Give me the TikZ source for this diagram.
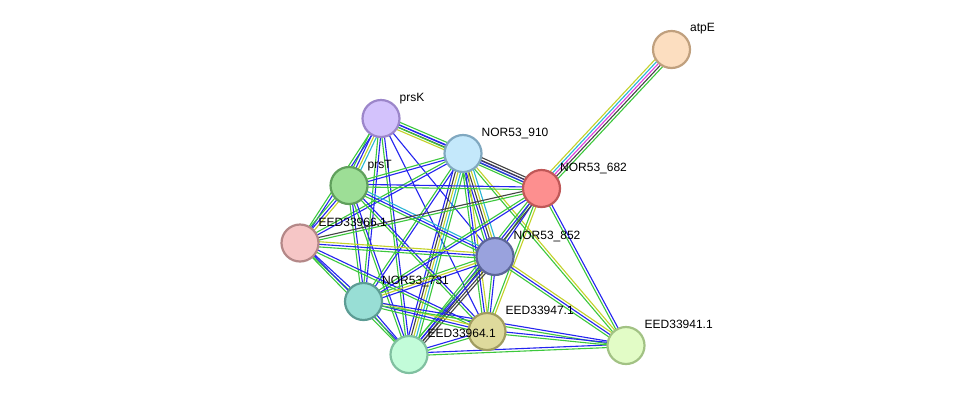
\documentclass[tikz,border=0pt]{standalone}
\usepackage{fontspec}
\setmainfont{Liberation Sans}
\usetikzlibrary{calc}
\pgfdeclarelayer{bg}
\pgfsetlayers{bg,main}
\definecolor{cG}{HTML}{3CC83C}
\definecolor{cB}{HTML}{2424F0}
\definecolor{cY}{HTML}{C4D22A}
\definecolor{cC}{HTML}{2AB6D6}
\definecolor{cK}{HTML}{444444}
\definecolor{cM}{HTML}{E040E0}
\tikzset{
  prot/.style={circle,minimum size=37pt,inner sep=0pt,line width=2.2pt},
  lbl/.style={anchor=base west,font=\fontsize{12}{14}\selectfont,inner sep=0pt,text=black},
  ln/.style={line width=1.1pt}
}
\newcommand\sedge[4]{%
  \foreach \cc [count=\i] in {#4}{%
    \pgfmathsetmacro\off{(\i-(#3+1)/2)*2.6}%
    \draw[ln,draw=\cc] ($(#1.center)!\off pt!90:(#2.center)$) -- ($(#2.center)!\off pt!-90:(#1.center)$);
  }%
}
\begin{document}
\begin{tikzpicture}[x=1pt,y=-1pt]
\useasboundingbox (0,0) rectangle (976,400);
% nodes
\node[prot,fill={rgb,255:red,252;green,222;blue,192},draw={rgb,255:red,192;green,160;blue,126}] (atpE) at (671.5,49.5) {};
\node[prot,fill={rgb,255:red,253;green,143;blue,143},draw={rgb,255:red,192;green,88;blue,88}] (n682) at (541.5,188.5) {};
\node[prot,fill={rgb,255:red,211;green,194;blue,252},draw={rgb,255:red,156;green,134;blue,202}] (prsK) at (381,118.5) {};
\node[prot,fill={rgb,255:red,196;green,232;blue,251},draw={rgb,255:red,128;green,168;blue,192}] (n910) at (463,153.5) {};
\node[prot,fill={rgb,255:red,157;green,222;blue,150},draw={rgb,255:red,96;green,160;blue,92}] (prsT) at (349,185.5) {};
\node[prot,fill={rgb,255:red,246;green,198;blue,198},draw={rgb,255:red,180;green,136;blue,136}] (e66) at (300,243) {};
\node[prot,fill={rgb,255:red,153;green,162;blue,221},draw={rgb,255:red,92;green,102;blue,152}] (n852) at (495,256.5) {};
\node[prot,fill={rgb,255:red,152;green,222;blue,213},draw={rgb,255:red,92;green,156;blue,148}] (n731) at (363.5,301.5) {};
\node[prot,fill={rgb,255:red,222;green,218;blue,156},draw={rgb,255:red,160;green,156;blue,96}] (e47) at (487,331.5) {};
\node[prot,fill={rgb,255:red,194;green,252;blue,217},draw={rgb,255:red,128;green,192;blue,160}] (e64) at (409,354.5) {};
\node[prot,fill={rgb,255:red,226;green,252;blue,198},draw={rgb,255:red,162;green,194;blue,132}] (e41) at (626,345.5) {};
% labels
\node[lbl] (l-atpE) at (690,31.5) {atpE};
\node[lbl] (l-682) at (560,171) {NOR53\_682};
\node[lbl] (l-prsK) at (399.5,101.5) {prsK};
\node[lbl] (l-910) at (481.5,136.5) {NOR53\_910};
\node[lbl] (l-prsT) at (367.5,168) {prsT};
\node[lbl] (l-e66) at (318.5,226) {EED33966.1};
\node[lbl] (l-852) at (513.5,239.5) {NOR53\_852};
\node[lbl] (l-731) at (382,284.5) {NOR53\_731};
\node[lbl] (l-e47) at (505.5,314.5) {EED33947.1};
\node[lbl] (l-e64) at (427.5,337.5) {EED33964.1};
\node[lbl] (l-e41) at (644.5,328.5) {EED33941.1};
% edges
\begin{pgfonlayer}{bg}
\fill[white] (0,0) rectangle (976,400);
\sedge{atpE}{n682}{5}{cY,cC,cM,cK,cG}
\sedge{prsK}{n910}{4}{cY,cK,cB,cG}
\sedge{prsK}{prsT}{4}{cG,cB,cY,cC}
\sedge{prsK}{e66}{2}{cG,cB}
\sedge{prsK}{n852}{1}{cB}
\sedge{prsK}{n731}{2}{cG,cB}
\sedge{prsK}{e64}{2}{cG,cB}
\sedge{prsK}{e47}{1}{cB}
\sedge{prsK}{n682}{2}{cG,cB}
\sedge{n910}{n682}{4}{cG,cB,cK,cK}
\sedge{n910}{prsT}{2}{cG,cB}
\sedge{n910}{e66}{2}{cG,cB}
\sedge{n910}{n852}{5}{cG,cB,cK,cY,cC}
\sedge{n910}{n731}{2}{cG,cB}
\sedge{n910}{e64}{5}{cB,cK,cY,cC,cG}
\sedge{n910}{e47}{3}{cG,cB,cY}
\sedge{n910}{e41}{2}{cG,cY}
\sedge{prsT}{n682}{2}{cG,cB}
\sedge{prsT}{e66}{3}{cG,cB,cY}
\sedge{prsT}{n852}{3}{cG,cB,cC}
\sedge{prsT}{n731}{2}{cG,cB}
\sedge{prsT}{e64}{2}{cG,cB}
\sedge{prsT}{e47}{2}{cG,cB}
\sedge{n682}{e66}{2}{cK,cG}
\sedge{n682}{n852}{2}{cG,cB}
\sedge{n682}{n731}{2}{cG,cB}
\sedge{n682}{e64}{3}{cG,cB,cK}
\sedge{n682}{e47}{2}{cG,cY}
\sedge{n682}{e41}{2}{cG,cB}
\sedge{e66}{n852}{3}{cG,cB,cY}
\sedge{e66}{n731}{2}{cG,cB}
\sedge{e66}{e64}{2}{cG,cB}
\sedge{e66}{e47}{2}{cG,cB}
\sedge{n852}{n731}{3}{cG,cY,cB}
\sedge{n852}{e64}{4}{cG,cB,cK,cK}
\sedge{n852}{e47}{2}{cG,cB}
\sedge{n852}{e41}{3}{cG,cB,cY}
\sedge{n731}{e64}{2}{cG,cB}
\sedge{n731}{e47}{3}{cG,cB,cY}
\sedge{n731}{e41}{2}{cG,cB}
\sedge{e64}{e47}{2}{cG,cB}
\sedge{e64}{e41}{2}{cG,cB}
\sedge{e47}{e41}{2}{cG,cB}
\end{pgfonlayer}
\end{tikzpicture}
\end{document}
